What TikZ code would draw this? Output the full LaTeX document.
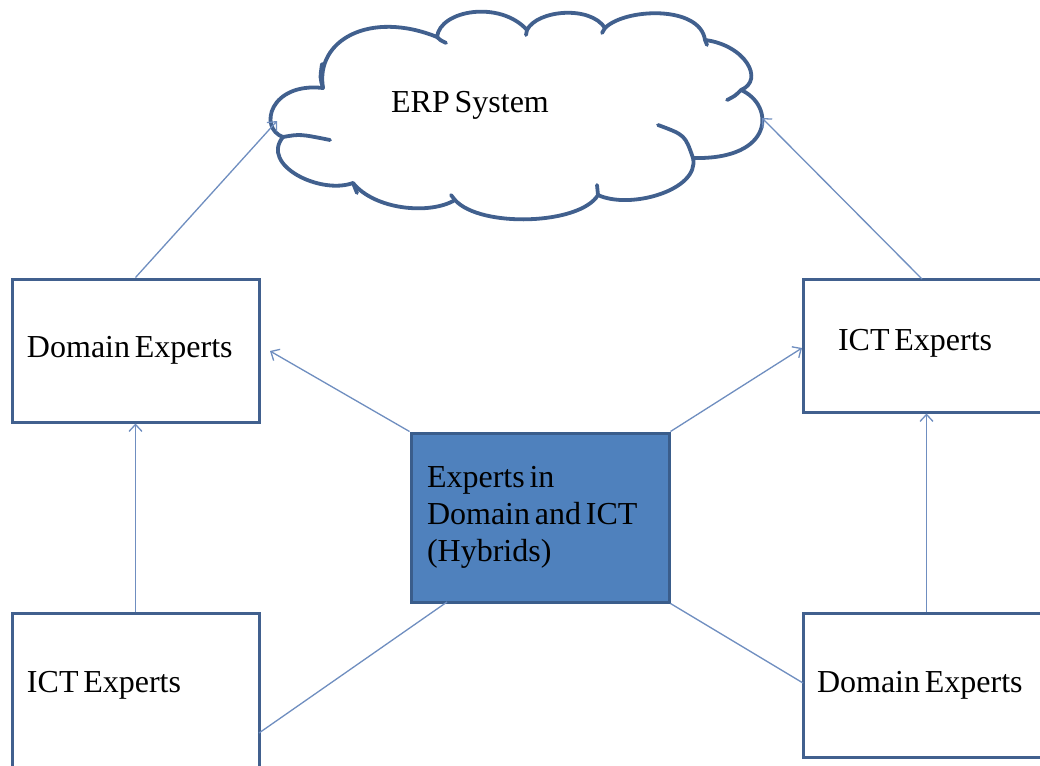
\documentclass[tikz,border=0pt]{standalone}
\usepackage{fontspec}
\setmainfont[WordSpace=0.6]{Liberation Serif}
\usetikzlibrary{arrows.meta}
\definecolor{boxline}{HTML}{41608E}
\definecolor{hyfill}{HTML}{4F81BD}
\definecolor{hyline}{HTML}{3A5D8B}
\definecolor{arrowcol}{HTML}{6F8EC0}
\tikzset{
  box/.style={draw=boxline, line width=3pt, fill=white, rectangle, align=left,
    font=\fontsize{32}{37}\selectfont, inner ysep=0pt,
    execute at begin node={\spaceskip=0.15em plus 0.05em\relax}},
  hybox/.style={box, draw=hyline, fill=hyfill},
  conn/.style={draw=arrowcol, line width=1.3pt},
  arr/.style={conn, -{Straight Barb[length=7pt,width=13pt,line width=1.3pt]}},
  cloudline/.style={draw=boxline, line width=3.8pt, line cap=round, line join=round},
}
\begin{document}
\begin{tikzpicture}[x=1pt,y=-1pt]
\useasboundingbox (0,0) rectangle (1040,765);
\clip (0,0) rectangle (1040,765);
\fill[white] (0,0) rectangle (1040,765);

% cloud
\path[cloudline, fill=white]
  (283,137) .. controls (258,128) and (270,82) .. (323,88)
  .. controls (315,40) and (370,10) .. (437,37)
  .. controls (440,10) and (500,0) .. (527,30)
  .. controls (537,10) and (590,5) .. (605,28)
  .. controls (625,8) and (700,5) .. (705,40)
  .. controls (745,45) and (765,80) .. (741,90)
  .. controls (775,105) and (775,160) .. (693,158)
  .. controls (700,190) and (630,210) .. (598,195)
  .. controls (580,225) and (480,228) .. (455,200)
  .. controls (430,215) and (375,210) .. (353,183)
  .. controls (320,195) and (260,165) .. cycle;
\draw[cloudline] (283,137) .. controls (300,134) .. (330,140);
\draw[cloudline] (323,88) .. controls (320,78) .. (322,64);
\draw[cloudline] (437,37) .. controls (440,40) .. (446,43);
\draw[cloudline] (527,30) -- (526,35);
\draw[cloudline] (605,28) -- (602,33);
\draw[cloudline] (705,40) -- (707,45);
\draw[cloudline] (741,90) .. controls (735,96) .. (727,100);
\draw[cloudline] (693,158) .. controls (685,135) .. (658,125);
\draw[cloudline] (598,195) -- (597,185);
\draw[cloudline] (455,200) -- (451,195);
\draw[cloudline] (353,183) -- (357,193);
\node[font=\fontsize{32}{37}\selectfont] (erp) at (470,105) {ERP System};
\coordinate (cloudL) at (277,121);
\coordinate (cloudR) at (762,118);

% boxes
\node[box, inner xsep=15pt, text width=217pt, minimum height=143pt] (dt) at (135.5,350.5) {Domain Experts};
\node[box, inner xsep=35pt, text width=177pt, minimum height=133pt, text depth=12pt] (it) at (926.5,345.5) {ICT Experts};
\node[hybox, inner xsep=16pt, text width=226pt, minimum height=169pt] (hy) at (540,517.5) {Experts in\\Domain and ICT\\(Hybrids)};
\node[box, inner xsep=15pt, text width=217pt, minimum height=177pt, text depth=40pt] (ib) at (135.5,701.5) {ICT Experts};
\node[box, inner xsep=14pt, text width=219pt, minimum height=144pt] (db) at (926.5,685) {Domain Experts};

% connectors
\coordinate (hyBL) at (447,602);
\coordinate (ibR) at (259,733);
\coordinate (dbL) at (803,683);
\coordinate (dtR) at (270,351);
\coordinate (itL) at (802,348);
\coordinate (itT) at (922,279);
\draw[arr] (dt.north) -- (cloudL);
\draw[arr] (itT) -- (cloudR);
\draw[arr] (hy.north west) -- (dtR);
\draw[arr] (hy.north east) -- (itL);
\draw[arr] (ib.north) -- (dt.south);
\draw[arr] (db.north) -- (it.south);
\draw[conn] (hyBL) -- (ibR);
\draw[conn] (hy.south east) -- (dbL);
\end{tikzpicture}
\end{document}
